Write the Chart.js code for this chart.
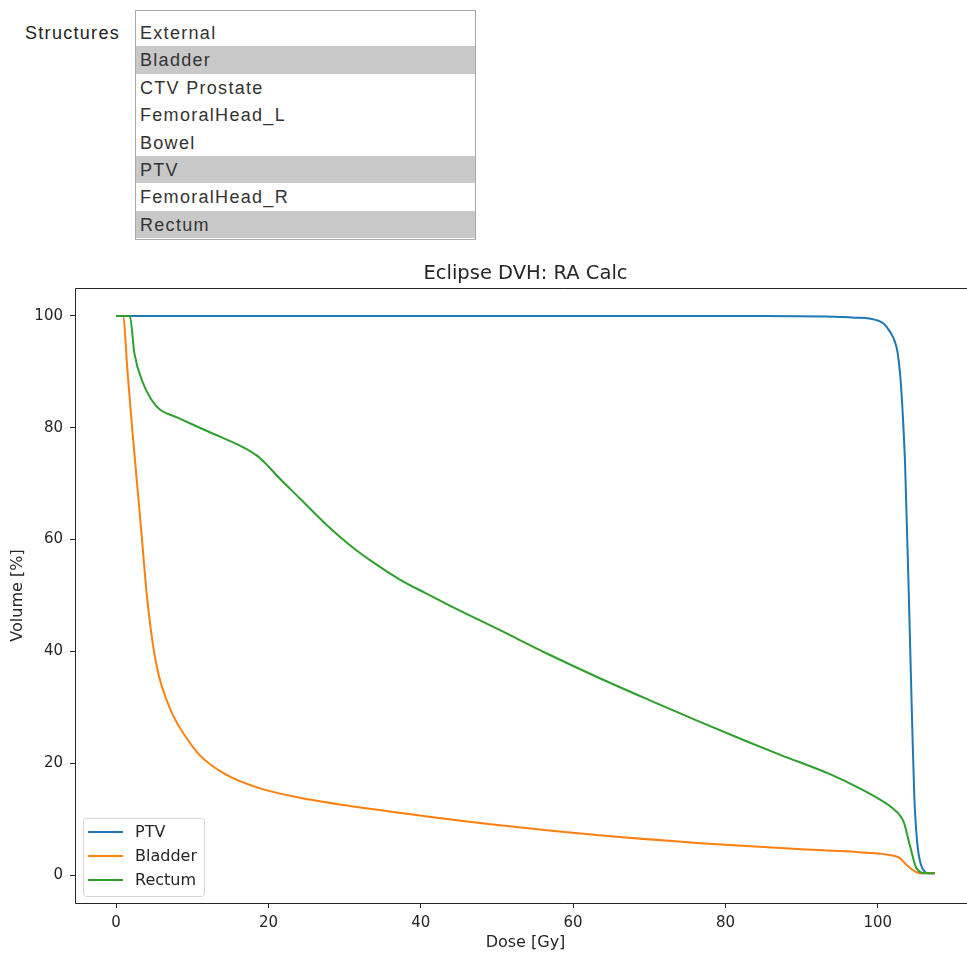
<!DOCTYPE html>
<html>
<head>
<meta charset="utf-8">
<title>Eclipse DVH</title>
<script src="https://cdn.jsdelivr.net/npm/chart.js@4.4.1/dist/chart.umd.min.js"></script>
<style>
    html, body { margin: 0; padding: 0; background: #fff; overflow: hidden; }
    .picker-label {
        position: absolute; left: 25px; top: 23px;
        font: 18px "Liberation Sans", Arial, sans-serif; color: #222;
        letter-spacing: 1.3px;
    }
    .picker-list {
        position: absolute; left: 135px; top: 10px;
        width: 341px; height: 230px; box-sizing: border-box;
        border: 1px solid #a9a9a9; padding-top: 8px; overflow: hidden;
        font: 18px "Liberation Sans", Arial, sans-serif; color: #333;
        letter-spacing: 1.3px;
    }
    .picker-list div { height: 27.4px; line-height: 28px; padding-left: 4px; white-space: nowrap; }
    .picker-list div.sel { background: #c8c8c8; }
    .plot { position: absolute; left: 0; top: 250px; width: 967px; height: 706px; overflow: hidden; }
</style>
</head>
<body>
<div class="picker-label">Structures</div>
<div class="picker-list" id="structures"></div>
<div class="plot"><canvas id="dvh" width="1051" height="706"></canvas></div>
<script>
// structure list shown above the plot, selected ones highlighted
const structures = ["External", "Bladder", "CTV Prostate", "FemoralHead_L", "Bowel", "PTV", "FemoralHead_R", "Rectum"];
const selected = ["Bladder", "PTV", "Rectum"];

// cumulative DVH curves: dose [Gy] vs volume [%]
const ptvDose = [0, 85, 93, 97, 99.4, 100.8, 101.6, 102.2, 102.6, 103.0, 103.3, 103.6, 104.1, 104.5, 104.8, 105.2, 105.6, 106.1, 106.6, 107.5];
const ptvVolume = [100, 100, 99.9, 99.7, 99.4, 98.6, 97.2, 95.6, 93.5, 88.5, 82, 73, 49, 28, 14, 5.5, 2.2, 0.7, 0.3, 0.3];

const bladderDose = [0, 0.9, 1.5, 2.1, 2.75, 3.4, 4.0, 4.8, 5.6, 6.6, 7.6, 8.8, 11.0, 14.5, 18.9, 25.4, 30.5, 36.9, 50.4, 63.5, 76.7, 90, 98.6, 101.5, 102.8, 103.8, 104.5, 105.1, 106, 107.5];
const bladderVolume = [100, 100, 90, 80, 70, 60, 50.5, 41.5, 35.7, 31.4, 28.2, 25.4, 21.4, 17.9, 15.5, 13.5, 12.4, 11.2, 8.9, 7.1, 5.7, 4.6, 4.0, 3.6, 3.1, 1.8, 1.0, 0.5, 0.3, 0.3];

const rectumDose = [0, 1.8, 2.4, 3.5, 4.6, 5.7, 7.9, 12.3, 16.7, 18.4, 19.7, 21.0, 24.1, 27.5, 30.7, 34.0, 37.2, 40.5, 43.8, 50.4, 56.9, 63.5, 70.0, 76.5, 83.0, 87.2, 93.8, 97.5, 100.3, 102.0, 103.4, 104.2, 105.1, 106.4, 107.5];
const rectumVolume = [100, 100, 93.3, 88.1, 85.1, 83.3, 81.9, 79.2, 76.5, 75.1, 73.5, 71.6, 67.4, 62.8, 59.0, 55.7, 52.9, 50.5, 48.2, 43.8, 39.4, 35.2, 31.3, 27.5, 23.8, 21.5, 18.0, 15.6, 13.5, 11.9, 9.5, 5.4, 1.2, 0.3, 0.3];

const xTicks = [0, 20, 40, 60, 80, 100];
const yTicks = [0, 20, 40, 60, 80, 100];

const list = document.getElementById("structures");
structures.forEach(name => {
    const row = document.createElement("div");
    row.textContent = name;
    if (selected.includes(name)) row.className = "sel";
    list.appendChild(row);
});

Chart.defaults.font.family = "'DejaVu Sans', sans-serif";
Chart.defaults.font.size = 15;
Chart.defaults.color = "#262626";

const colors = {
    blue: "#1f77b4",
    orange: "#ff7f0e",
    green: "#2ca02c"
};

function points(dose, volume) {
    return dose.map((d, i) => ({ x: d, y: volume[i] }));
}

function curve(label, dose, volume, color, order) {
    return {
        label: label,
        data: points(dose, volume),
        borderColor: color,
        backgroundColor: color,
        borderWidth: 2,
        pointRadius: 0,
        cubicInterpolationMode: "monotone",
        order: order
    };
}

// left, top and bottom spines; the right one sits beyond the visible width
const frame = {
    id: "frame",
    afterDatasetsDraw(chart) {
        const { ctx, chartArea: a, width } = chart;
        const l = Math.round(a.left) + 0.5;
        const t = Math.round(a.top) + 0.5;
        const b = Math.round(a.bottom) + 0.5;
        ctx.save();
        ctx.strokeStyle = "#262626";
        ctx.lineWidth = 1;
        ctx.beginPath();
        ctx.moveTo(width, t);
        ctx.lineTo(l, t);
        ctx.lineTo(l, b);
        ctx.lineTo(width, b);
        ctx.stroke();
        ctx.restore();
    }
};

// legend box in the lower left corner of the axes
const boxLegend = {
    id: "boxLegend",
    afterDatasetsDraw(chart) {
        const { ctx, chartArea: a } = chart;
        const sets = chart.data.datasets;
        const rowH = 24;
        const w = 121, h = sets.length * rowH + 6;
        const x = a.left + 8, y = a.bottom - 7 - h;
        ctx.save();
        ctx.beginPath();
        ctx.roundRect(x + 0.5, y + 0.5, w, h, 3);
        ctx.fillStyle = "rgba(255,255,255,0.8)";
        ctx.fill();
        ctx.strokeStyle = "#d6d6d6";
        ctx.lineWidth = 1;
        ctx.stroke();
        ctx.font = "16px 'DejaVu Sans', sans-serif";
        ctx.textBaseline = "middle";
        ctx.fillStyle = "#262626";
        sets.forEach((ds, i) => {
            const cy = y + 14 + i * rowH;
            ctx.beginPath();
            ctx.moveTo(x + 5, cy);
            ctx.lineTo(x + 40, cy);
            ctx.strokeStyle = ds.borderColor;
            ctx.lineWidth = 2;
            ctx.stroke();
            ctx.fillText(ds.label, x + 52, cy + 1);
        });
        ctx.restore();
    }
};

new Chart(document.getElementById("dvh"), {
    type: "line",
    data: {
        datasets: [
            curve("PTV", ptvDose, ptvVolume, colors.blue, 3),
            curve("Bladder", bladderDose, bladderVolume, colors.orange, 2),
            curve("Rectum", rectumDose, rectumVolume, colors.green, 1)
        ]
    },
    options: {
        responsive: false,
        animation: false,
        devicePixelRatio: 1,
        layout: { padding: 0 },
        scales: {
            x: {
                type: "linear",
                min: -5.4,
                max: 112.9,
                afterBuildTicks: s => { s.ticks = xTicks.map(v => ({ value: v })); },
                afterFit: s => { s.height = 53; },
                grid: { drawOnChartArea: false, tickLength: 5, tickColor: "#262626" },
                border: { display: false },
                ticks: { padding: 6, maxRotation: 0, callback: v => String(v) },
                title: { display: true, text: "Dose [Gy]", font: { size: 16 }, padding: { top: 0, bottom: 4 } }
            },
            y: {
                type: "linear",
                min: -5,
                max: 105,
                afterBuildTicks: s => { s.ticks = yTicks.map(v => ({ value: v })); },
                afterFit: s => { s.width = 75; },
                grid: { drawOnChartArea: false, tickLength: 5, tickColor: "#262626" },
                border: { display: false },
                ticks: { padding: 7, callback: v => String(v) },
                title: { display: true, text: "Volume [%]", font: { size: 16 }, padding: { top: 8, bottom: 0 } }
            },
            // empty right-hand gutter so the title centres over the axes
            gutter: {
                type: "linear",
                position: "right",
                grid: { display: false },
                border: { display: false },
                ticks: { display: false },
                afterFit: s => { s.width = 75; }
            }
        },
        plugins: {
            title: {
                display: true,
                text: "Eclipse DVH: RA Calc",
                font: { size: 19.5, weight: "normal" },
                color: "#262626",
                padding: { top: 12.5, bottom: 2.1 }
            },
            legend: { display: false },
            tooltip: { enabled: false }
        }
    },
    plugins: [frame, boxLegend]
});
</script>
</body>
</html>
